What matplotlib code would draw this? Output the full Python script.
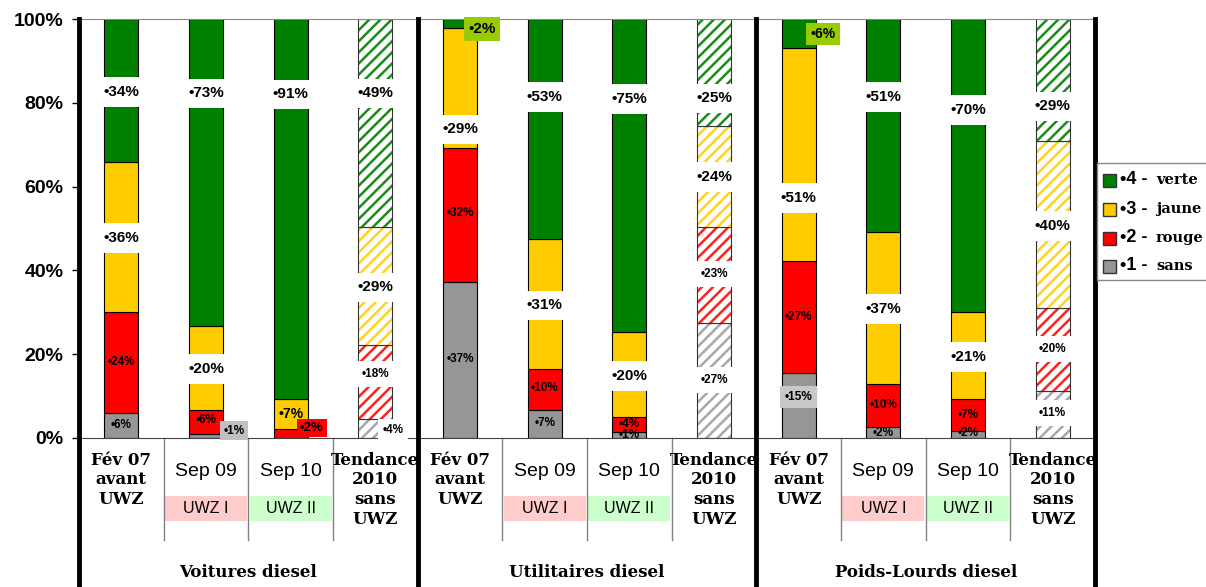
import numpy as np
import matplotlib
matplotlib.use("Agg")
import matplotlib.pyplot as plt
from matplotlib.patches import Rectangle

plt.rcParams['font.family'] = ['Liberation Sans', 'DejaVu Sans']
plt.rcParams['hatch.linewidth'] = 1.8

groups = ["Voitures diesel", "Utilitaires diesel", "Poids-Lourds diesel"]
periods = ["Fév 07\navant\nUWZ", "Sep 09", "Sep 10", "Tendance\n2010\nsans\nUWZ"]
zones = [None, "UWZ I", "UWZ II", None]
yticks = [0, 20, 40, 60, 80, 100]

# share of each class, 12 bars (3 groups x 4 periods)
gray = [5.9, 1.0, 0.0, 4.5, 37.2, 6.7, 1.4, 27.4, 15.5, 2.7, 1.7, 11.2]
red = [24.1, 5.7, 2.1, 17.7, 32.0, 9.8, 3.6, 23.0, 26.7, 10.1, 7.6, 19.8]
yellow = [35.9, 20.0, 7.2, 28.2, 28.7, 31.0, 20.3, 24.1, 50.8, 36.4, 20.7, 39.9]
green = [34.1, 73.3, 90.7, 49.6, 2.1, 52.5, 74.7, 25.5, 7.0, 50.8, 70.0, 29.1]

# printed labels
gray_lbl = [6, 1, None, 4, 37, 7, 1, 27, 15, 2, 2, 11]
red_lbl = [24, 6, 2, 18, 32, 10, 4, 23, 27, 10, 7, 20]
yellow_lbl = [36, 20, 7, 29, 29, 31, 20, 24, 51, 37, 21, 40]
green_lbl = [34, 73, 91, 49, 2, 53, 75, 25, 6, 51, 70, 29]

# where the labels sit (in %)
gray_ly = [3.1, 1.7, 0, 1.9, 18.9, 3.5, 0.7, 13.8, 9.8, 1.2, 1.2, 6.0]
red_ly = [18.1, 4.3, 2.4, 15.3, 53.7, 11.9, 3.3, 39.1, 28.9, 7.9, 5.5, 21.2]
yellow_ly = [47.7, 16.5, 5.7, 36.0, 73.7, 31.7, 14.8, 62.3, 57.3, 30.8, 19.3, 50.6]
green_ly = [82.6, 82.3, 82.0, 82.3, 97.6, 81.4, 80.9, 81.1, 96.4, 81.4, 78.3, 79.2]

series = [("gray", "#969696", "#A8A8A8", gray, gray_lbl, gray_ly),
          ("red", "#FF0000", "#FF2020", red, red_lbl, red_ly),
          ("yellow", "#FFCC00", "#FFD21F", yellow, yellow_lbl, yellow_ly),
          ("green", "#008000", "#1A8C1A", green, green_lbl, green_ly)]

trend = [3, 7, 11]
normal = [i for i in range(12) if i not in trend]

fig = plt.figure(figsize=(12.06, 5.87), dpi=100)
ax = fig.add_axes([79/1206, 149/587, 1016/1206, 419/587])

x = np.arange(12)
bottom = np.zeros(12)
w = 0.4
for name, col, hcol, vals, lbls, lys in series:
    v = np.array(vals)
    ax.bar(x[normal], v[normal], w, bottom=bottom[normal], color=col,
           edgecolor='black', linewidth=0.8, zorder=2)
    ax.bar(x[trend], v[trend], w, bottom=bottom[trend], color='white',
           edgecolor=hcol, hatch='///', linewidth=0, zorder=2)
    ax.bar(x[trend], v[trend], w, bottom=bottom[trend], fill=False,
           edgecolor='#333333', linewidth=0.8, zorder=2)
    bottom += v

# label styles
special = {("gray", 1): (0.33, "#C0C0C0", 8.5, 0.3),
           ("red", 2): (0.25, "#FF0000", 9.5, 0.25),
           ("yellow", 2): (0.0, None, 10, 0.3),
           ("gray", 3): (0.21, "white", 8.5, 0.4),
           ("green", 4): (0.26, "#99CC00", 11, 0.3),
           ("green", 8): (0.29, "#99CC00", 10, 0.3),
           ("gray", 8): (0.0, "#C8C8C8", 8.5, 0.4)}

for name, col, hcol, vals, lbls, lys in series:
    for i in range(12):
        if lbls[i] is None:
            continue
        if (name, i) in special:
            dx, box, fs, pad = special[(name, i)]
        elif name in ("green", "yellow"):
            dx, box, fs, pad = 0, "white", 11, 0.5
        elif i in trend:
            dx, box, fs, pad = 0, "white", 8.5, 0.6
        else:
            dx, box, fs, pad = 0, None, 8.5, 0.3
        bb = None
        if box:
            bb = dict(boxstyle="square,pad=%s" % pad, fc=box, ec='none')
        ax.text(i + dx, lys[i], "•%d%%" % lbls[i], ha='center', va='center',
                fontsize=fs, fontweight='bold', bbox=bb, zorder=5)

ax.set_xlim(-0.5, 11.5)
ax.set_ylim(0, 100)
ax.set_yticks(yticks)
ax.set_yticklabels(["%d%%" % t for t in yticks], fontsize=14, fontweight='bold')
ax.tick_params(axis='y', length=5, width=1, pad=6)
ax.set_xticks([])
ax.spines['left'].set_visible(False)
ax.spines['right'].set_visible(False)
ax.spines['top'].set_color('#888888')
ax.spines['bottom'].set_color('#444444')

tr = ax.get_xaxis_transform()
for xs in [-0.5, 3.5, 7.5, 11.5]:
    ax.plot([xs, xs], [1.0, -0.4], color='black', lw=3.5, transform=tr,
            clip_on=False, zorder=6)
for g in range(3):
    for k in range(3):
        xs = g * 4 + k + 0.5
        ax.plot([xs, xs], [0, -0.243], color='#808080', lw=1, transform=tr,
                clip_on=False)

for g in range(3):
    for k in range(4):
        xi = g * 4 + k
        if k in (0, 3):
            ax.text(xi, -0.033, periods[k], transform=tr, ha='center', va='top',
                    fontsize=12, fontweight='bold', family='DejaVu Serif',
                    linespacing=1.2)
        else:
            ax.text(xi, -0.081, periods[k], transform=tr, ha='center',
                    va='center', fontsize=14)
            fc = "#FFCCCC" if k == 1 else "#CCFFCC"
            ax.add_patch(Rectangle((xi - 0.485, -0.169 - 0.03), 0.97, 0.06,
                                   transform=tr, fc=fc, ec='none', clip_on=False))
            ax.text(xi, -0.169, zones[k], transform=tr, ha='center',
                    va='center', fontsize=11.5)
    ax.text(g * 4 + 1.5, -0.322, groups[g], transform=tr, ha='center',
            va='center', fontsize=12, fontweight='bold', family='DejaVu Serif')

# legend (runs to the right edge like the original)
fig.add_artist(Rectangle((1097/1206, 307/587), 120/1206, 117/587,
                         transform=fig.transFigure, fc='white', ec='#888888',
                         lw=1))
leg_names = ["verte", "jaune", "rouge", "sans"]
leg_nums = ["•4 -", "•3 -", "•2 -", "•1 -"]
leg_cols = ["#008000", "#FFCC00", "#FF0000", "#969696"]
leg_y = [180, 209, 238, 266]
for nm, nu, c, yy in zip(leg_names, leg_nums, leg_cols, leg_y):
    fig.add_artist(Rectangle((1103/1206, (587 - yy - 6.5)/587), 13/1206, 13/587,
                             transform=fig.transFigure, fc=c, ec='#333333', lw=1))
    fig.text(1120/1206, (587 - yy)/587, nu, fontsize=13, va='center',
             fontweight='bold')
    fig.text(1156/1206, (587 - yy)/587, nm, fontsize=10.5, va='center',
             fontweight='bold', family='DejaVu Serif')

fig.savefig("out.png", dpi=100)
